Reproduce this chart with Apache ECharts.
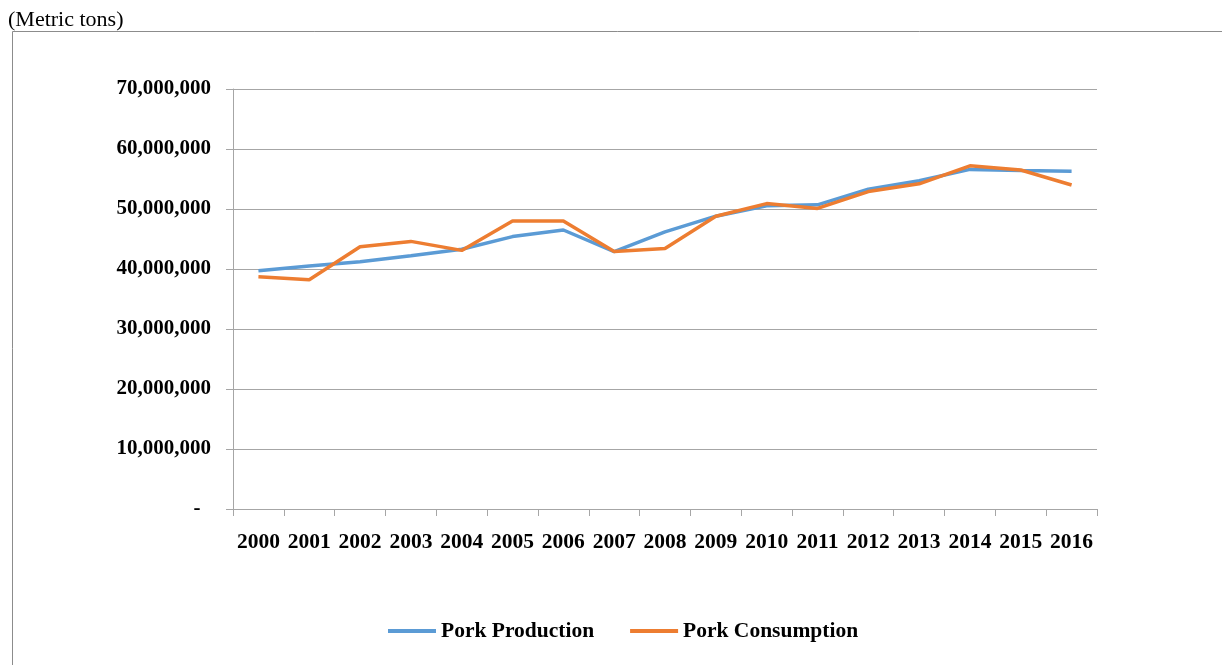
<!DOCTYPE html>
<html>
<head>
<meta charset="utf-8">
<script src="https://cdn.jsdelivr.net/npm/echarts@6/dist/echarts.min.js"></script>
<style>
  html, body { margin: 0; padding: 0; background: #fff; }
  #main { width: 1222px; height: 665px; }
</style>
</head>
<body>
<div id="main"></div>
<script>
// years on the x axis
var years = ['2000', '2001', '2002', '2003', '2004', '2005', '2006', '2007', '2008',
  '2009', '2010', '2011', '2012', '2013', '2014', '2015', '2016'];
// metric tons
var production = [39700000, 40500000, 41200000, 42200000, 43300000, 45400000, 46500000, 42900000,
  46200000, 48800000, 50550000, 50700000, 53300000, 54700000, 56600000, 56400000, 56300000];
var consumption = [38700000, 38200000, 43700000, 44600000, 43100000, 48000000, 48000000, 42900000,
  43400000, 48800000, 50900000, 50100000, 52900000, 54200000, 57200000, 56500000, 54000000];

var myChart = echarts.init(document.getElementById('main'));
var serif = '"Liberation Serif", "Times New Roman", serif';

var option = {
  animation: false,
  color: ['#5B9BD5', '#ED7D31'],
  title: {
    text: '(Metric tons)',
    left: 3,
    top: 4,
    textStyle: { fontFamily: serif, fontSize: 22, fontWeight: 'normal', color: '#000' }
  },
  graphic: [
    {
      type: 'polyline',
      shape: { points: [[12.5, 665], [12.5, 31.5], [1222, 31.5]] },
      style: { stroke: '#8c8c8c', lineWidth: 1, fill: null }
    }
  ],
  legend: {
    data: ['Pork Production', 'Pork Consumption'],
    left: 383,
    top: 615,
    itemWidth: 48,
    itemHeight: 4,
    itemGap: 36,
    icon: 'rect',
    textStyle: { fontFamily: serif, fontSize: 21.5, fontWeight: 'bold', color: '#000' }
  },
  grid: { left: 233, right: 125, top: 89, bottom: 156, containLabel: false },
  xAxis: {
    type: 'category',
    data: years,
    boundaryGap: true,
    axisLine: { lineStyle: { color: '#a6a6a6', width: 1 } },
    axisTick: { show: true, length: 7, lineStyle: { color: '#a6a6a6' } },
    axisLabel: {
      margin: 22,
      fontFamily: serif, fontSize: 21.5, fontWeight: 'bold', color: '#000',
      interval: 0
    }
  },
  yAxis: {
    type: 'value',
    min: 0,
    max: 70000000,
    interval: 10000000,
    axisLine: { show: true, lineStyle: { color: '#a6a6a6', width: 1 } },
    axisTick: { show: true, length: 7, lineStyle: { color: '#a6a6a6' } },
    splitLine: { lineStyle: { color: '#a6a6a6', width: 1 } },
    axisLabel: {
      margin: 22,
      fontFamily: serif, fontSize: 21, fontWeight: 'bold', color: '#000',
      formatter: function (v) {
        if (v === 0) return '-  ';
        return v.toLocaleString('en-US');
      }
    }
  },
  series: [
    {
      name: 'Pork Production',
      type: 'line',
      data: production,
      symbol: 'none',
      lineStyle: { width: 3.5 }
    },
    {
      name: 'Pork Consumption',
      type: 'line',
      data: consumption,
      symbol: 'none',
      lineStyle: { width: 3.5 }
    }
  ]
};

myChart.setOption(option);
</script>
</body>
</html>
